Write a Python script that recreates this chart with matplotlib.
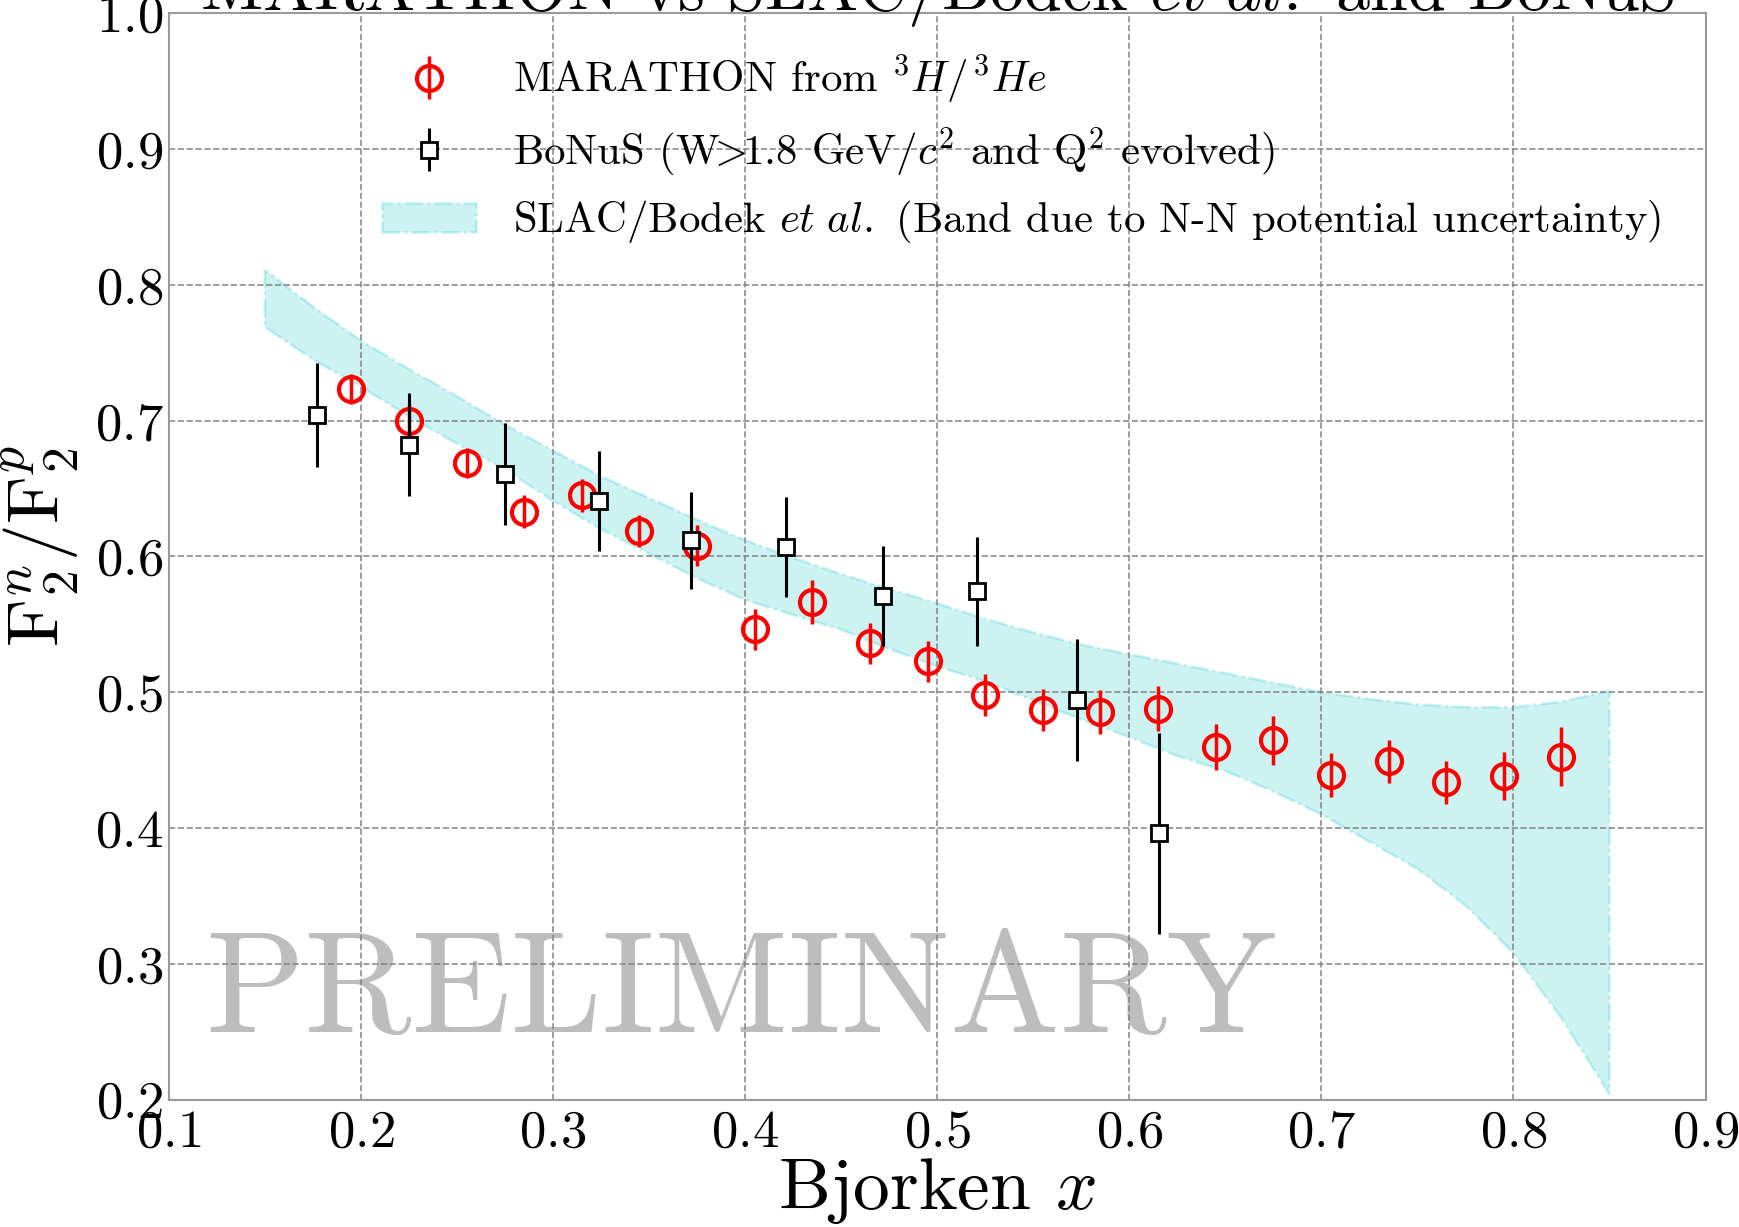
import matplotlib
matplotlib.use("Agg")
import matplotlib.pyplot as plt
from matplotlib.patches import Patch

plt.rcParams["font.family"] = "serif"
plt.rcParams["font.serif"] = ["cmr10"]
plt.rcParams["mathtext.fontset"] = "cm"
plt.rcParams["axes.formatter.use_mathtext"] = True
plt.rcParams["axes.unicode_minus"] = False

# MARATHON F2n/F2p from 3H/3He
marathon_x = [0.195, 0.225, 0.255, 0.285, 0.315, 0.345, 0.375, 0.405, 0.435, 0.465, 0.495,
              0.525, 0.555, 0.585, 0.615, 0.645, 0.675, 0.705, 0.735, 0.765, 0.795, 0.825]
marathon_y = [0.7235, 0.700, 0.669, 0.633, 0.645, 0.6186, 0.608, 0.5464, 0.5665, 0.536, 0.5228,
              0.4978, 0.4872, 0.4855, 0.488, 0.4597, 0.4646, 0.4389, 0.4490, 0.4337, 0.4383, 0.4526]
marathon_err = [0.011, 0.012, 0.011, 0.012, 0.012, 0.012, 0.015, 0.015, 0.016, 0.015, 0.015,
                0.0155, 0.0155, 0.016, 0.0167, 0.0166, 0.018, 0.0163, 0.0162, 0.0157, 0.0178, 0.022]

# BoNuS
bonus_x = [0.177, 0.225, 0.275, 0.324, 0.372, 0.4214, 0.472, 0.5205, 0.573, 0.6157]
bonus_y = [0.7039, 0.6824, 0.6608, 0.641, 0.6118, 0.6069, 0.5712, 0.5742, 0.4943, 0.396]
bonus_err = [0.0384, 0.0376, 0.0373, 0.0368, 0.036, 0.037, 0.0368, 0.040, 0.0448, 0.0737]

# SLAC/Bodek band
band_x = [0.15, 0.175, 0.2, 0.225, 0.25, 0.275, 0.3, 0.325, 0.35, 0.375, 0.4, 0.425, 0.45, 0.475,
          0.5, 0.525, 0.55, 0.575, 0.6, 0.625, 0.65, 0.675, 0.7, 0.725, 0.75, 0.775, 0.8, 0.825, 0.85]
band_hi = [0.811, 0.784, 0.759, 0.738, 0.718, 0.697, 0.678, 0.659, 0.643, 0.627, 0.612, 0.599, 0.587,
           0.576, 0.5655, 0.554, 0.544, 0.535, 0.528, 0.521, 0.514, 0.507, 0.500, 0.495, 0.491,
           0.489, 0.489, 0.493, 0.501]
band_lo = [0.769, 0.745, 0.725, 0.703, 0.683, 0.664, 0.641, 0.620, 0.602, 0.584, 0.568, 0.557, 0.546,
           0.532, 0.519, 0.508, 0.494, 0.480, 0.467, 0.453, 0.442, 0.427, 0.410, 0.390, 0.370,
           0.343, 0.308, 0.260, 0.204]

fig = plt.figure(figsize=(17.4, 12.27), dpi=100)
ax = fig.add_axes([0.097, 0.1038, 0.8832, 0.8854])

ax.fill_between(band_x, band_lo, band_hi, facecolor="c", edgecolor="c", alpha=0.2,
                linestyle="-.", linewidth=2, zorder=1)
ax.errorbar(marathon_x, marathon_y, yerr=marathon_err, fmt="o", color="red", mfc="none",
            mec="red", ms=18, mew=3, elinewidth=2.5, capsize=0, zorder=3)
ax.errorbar(bonus_x, bonus_y, yerr=bonus_err, fmt="s", color="black", mfc="white",
            mec="black", ms=11, mew=2, elinewidth=2.2, capsize=0, zorder=4)

ax.text(0.119, 0.25, "PRELIMINARY", fontsize=105, color="#bdbdbd", ha="left", va="baseline",
        zorder=0)

ax.set_xlim(0.1, 0.9)
ax.set_ylim(0.2, 1.0)
ax.set_xticks([0.1, 0.2, 0.3, 0.4, 0.5, 0.6, 0.7, 0.8, 0.9])
ax.set_yticks([0.2, 0.3, 0.4, 0.5, 0.6, 0.7, 0.8, 0.9, 1.0])
ax.tick_params(length=0, labelsize=38)
ax.tick_params(axis="y", pad=4)
ax.tick_params(axis="x", pad=7)
ax.grid(True, linestyle="--", color="gray", linewidth=1.2, alpha=0.9)
for s in ax.spines.values():
    s.set_color("#999999")
    s.set_linewidth(1.5)

ax.set_xlabel("Bjorken $x$", fontsize=53)
ax.xaxis.set_label_coords(0.5, -0.052)
ax.set_ylabel(r"$\mathrm{F}_2^n/\mathrm{F}_2^p$", fontsize=53)
ax.yaxis.set_label_coords(-0.057, 0.51)

# title sits mostly above the top of the canvas, as in the original
ax.annotate(r"MARATHON vs SLAC/Bodek $et\ al.$ and BoNuS", xy=(0.5, 1.0), xycoords="axes fraction",
            xytext=(0, 2), textcoords="offset points", ha="center", va="baseline",
            fontsize=49, annotation_clip=False)

band_patch = Patch(facecolor="c", edgecolor="c", alpha=0.2, linestyle="-.", linewidth=2)
leg = ax.legend(
    [ax.containers[0], ax.containers[1], band_patch],
    [r"MARATHON from $^3H/^3He$",
     r"BoNuS (W$\!\!>\!\!$1.8 GeV/$c^2$ and Q$^2$ evolved)",
     r"SLAC/Bodek $et\ al.$ (Band due to N-N potential uncertainty)"],
    loc="upper left", bbox_to_anchor=(0.125, 0.983), frameon=False, fontsize=30.8,
    handlelength=2.2, handletextpad=0.85, labelspacing=0.45, borderpad=0)

fig.savefig("out.png", dpi=100)
